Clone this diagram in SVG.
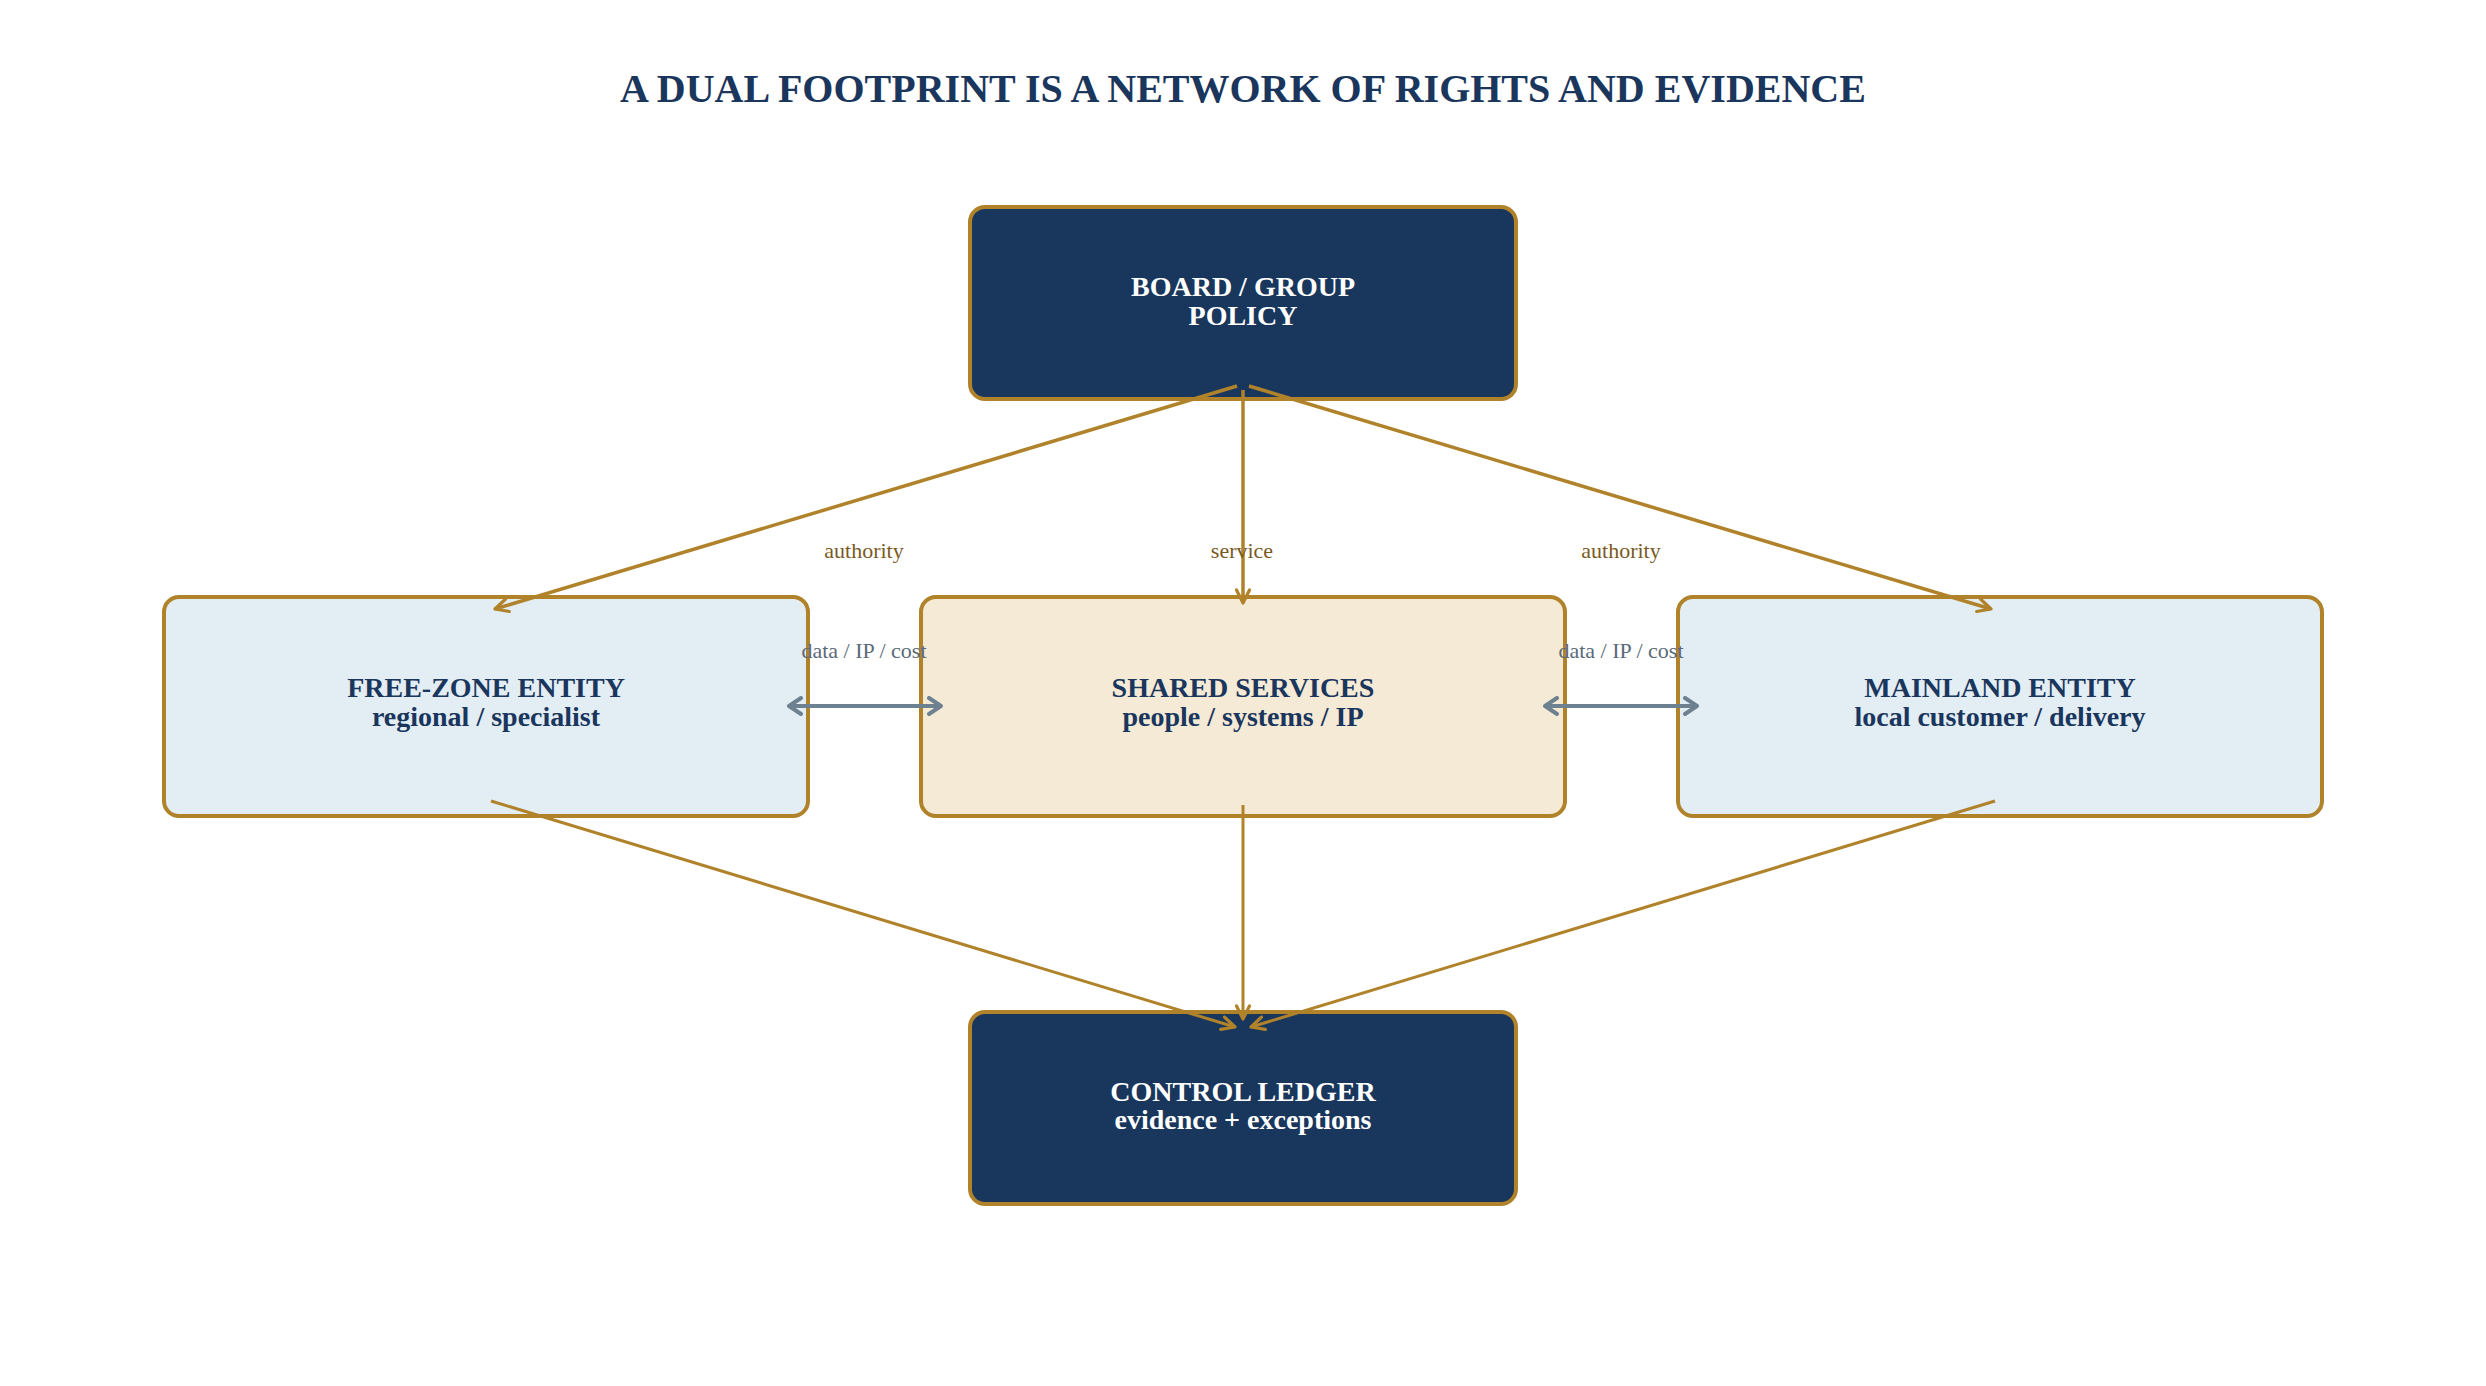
<svg xmlns="http://www.w3.org/2000/svg" width="2486" height="1386" viewBox="0 0 2486 1386">
<style>
.box{stroke:#B0822A;stroke-width:4}
.dark{fill:#19365D}
.light{fill:#E2EDF4}
.warm{fill:#F5EAD6}
.t{font-family:"Liberation Serif","Times New Roman",serif;font-weight:bold;font-size:28px;text-anchor:middle}
.tw{fill:#FFFFFF}
.tn{fill:#1A365D}
.gold{stroke:#B0822A;fill:none}
.gray{stroke:#6E8191;fill:none;stroke-width:4}
.lbl{font-family:"Liberation Serif","Times New Roman",serif;font-size:22px;text-anchor:middle}
.lb{fill:#7A5A1E}
.lg{fill:#5A6A7A}
</style>
<defs>
<marker id="ag" markerUnits="userSpaceOnUse" markerWidth="18" markerHeight="16" viewBox="0 0 18 16" refX="15" refY="8" orient="auto">
<path d="M2,1.5 L15,8 L2,14.5" fill="none" stroke="#B0822A" stroke-width="3.2" stroke-linecap="round" stroke-linejoin="round"/>
</marker>
<marker id="ay" markerUnits="userSpaceOnUse" markerWidth="18" markerHeight="20" viewBox="0 0 18 20" refX="15" refY="10" orient="auto-start-reverse">
<path d="M3,2 L15,10 L3,18" fill="none" stroke="#6E8191" stroke-width="4" stroke-linecap="round" stroke-linejoin="round"/>
</marker>
</defs>
<rect width="2486" height="1386" fill="#FFFFFF"/>
<text x="1243" y="102" font-family="'Liberation Serif','Times New Roman',serif" font-weight="bold" font-size="40" fill="#1A365D" text-anchor="middle">A DUAL FOOTPRINT IS A NETWORK OF RIGHTS AND EVIDENCE</text>

<g id="node-board">
<rect class="box dark" x="970" y="207" width="546" height="192" rx="15"/>
<text class="t tw" x="1243" y="296">BOARD / GROUP</text>
<text class="t tw" x="1243" y="325">POLICY</text>
</g>
<g id="node-freezone">
<rect class="box light" x="164" y="597" width="644" height="219" rx="15"/>
<text class="t tn" x="486" y="697">FREE-ZONE ENTITY</text>
<text class="t tn" x="486" y="726">regional / specialist</text>
</g>
<g id="node-shared">
<rect class="box warm" x="921" y="597" width="644" height="219" rx="15"/>
<text class="t tn" x="1243" y="697">SHARED SERVICES</text>
<text class="t tn" x="1243" y="726">people / systems / IP</text>
</g>
<g id="node-mainland">
<rect class="box light" x="1678" y="597" width="644" height="219" rx="15"/>
<text class="t tn" x="2000" y="697">MAINLAND ENTITY</text>
<text class="t tn" x="2000" y="726">local customer / delivery</text>
</g>
<g id="node-ledger">
<rect class="box dark" x="970" y="1012" width="546" height="192" rx="15"/>
<text class="t tw" x="1243" y="1101">CONTROL LEDGER</text>
<text class="t tw" x="1243" y="1129">evidence + exceptions</text>
</g>

<g id="connectors">
<line class="gold" stroke-width="3.5" x1="1237" y1="386" x2="495" y2="609" marker-end="url(#ag)"/>
<line class="gold" stroke-width="3.5" x1="1243" y1="390" x2="1243" y2="603" marker-end="url(#ag)"/>
<line class="gold" stroke-width="3.5" x1="1249" y1="386" x2="1991" y2="609" marker-end="url(#ag)"/>
<line class="gold" stroke-width="3" x1="491" y1="801" x2="1235" y2="1027" marker-end="url(#ag)"/>
<line class="gold" stroke-width="3" x1="1243" y1="805" x2="1243" y2="1019" marker-end="url(#ag)"/>
<line class="gold" stroke-width="3" x1="1995" y1="801" x2="1251" y2="1027" marker-end="url(#ag)"/>
<line class="gray" x1="789" y1="706" x2="941" y2="706" marker-start="url(#ay)" marker-end="url(#ay)"/>
<line class="gray" x1="1545" y1="706" x2="1697" y2="706" marker-start="url(#ay)" marker-end="url(#ay)"/>
<text class="lbl lb" x="864" y="558">authority</text>
<text class="lbl lb" x="1242" y="558">service</text>
<text class="lbl lb" x="1621" y="558">authority</text>
<text class="lbl lg" x="864" y="658">data / IP / cost</text>
<text class="lbl lg" x="1621" y="658">data / IP / cost</text>
</g>
</svg>
